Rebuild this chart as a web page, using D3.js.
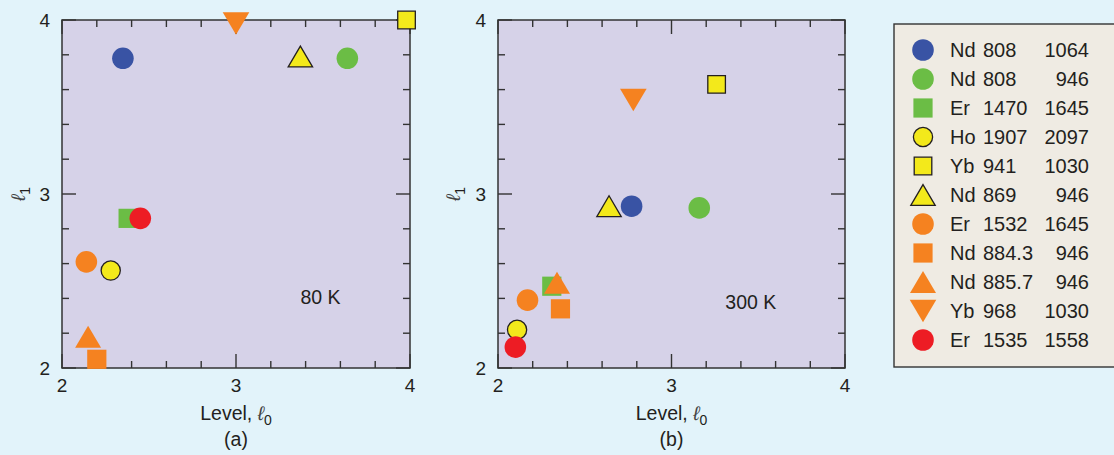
<!DOCTYPE html>
<html>
<head>
<meta charset="utf-8">
<script src="https://cdn.jsdelivr.net/npm/d3@7"></script>
<style>
  body { margin: 0; background: #e2f3fa; }
  svg { display: block; }
  text { font-family: "Liberation Sans", Arial, Helvetica, sans-serif; fill: #231f20; }
</style>
</head>
<body>
<svg id="chart" width="1114" height="455"></svg>
<script>
// Laser transitions: ion, pump wavelength, emission wavelength (nm)
const ions     = ["Nd", "Nd", "Er", "Ho", "Yb", "Nd", "Er", "Nd", "Nd", "Yb", "Er"];
const pumpNm   = ["808", "808", "1470", "1907", "941", "869", "1532", "884.3", "885.7", "968", "1535"];
const emitNm   = ["1064", "946", "1645", "2097", "1030", "946", "1645", "946", "946", "1030", "1558"];
const shapes   = ["circle", "circle", "square", "circle", "square", "triangle", "circle", "square", "triangle", "triangleDown", "circle"];
const colors   = ["#3953a4", "#6bbd45", "#6bbd45", "#f3e91b", "#f3e91b", "#f3e91b", "#f58220", "#f58220", "#f58220", "#f58220", "#ed1c24"];
const outlined = [false, false, false, true, true, true, false, false, false, false, false];

// Level l0 (x) and l1 (y) at 80 K
const l0At80K  = [2.35, 3.64, 2.38, 2.28, 3.98, 3.37, 2.14, 2.20, 2.15, 3.00, 2.45];
const l1At80K  = [3.78, 3.78, 2.86, 2.56, 4.00, 3.79, 2.61, 2.05, 2.18, 3.98, 2.86];
// Level l0 (x) and l1 (y) at 300 K
const l0At300K = [2.77, 3.16, 2.31, 2.11, 3.26, 2.64, 2.17, 2.36, 2.34, 2.78, 2.10];
const l1At300K = [2.93, 2.92, 2.47, 2.22, 3.63, 2.93, 2.39, 2.34, 2.49, 3.54, 2.12];

const axisDomain = [2, 4];
const majorTicks = [2, 3, 4];
const panelLabels = ["(a)", "(b)"];
const tempLabels = ["80 K", "300 K"];

const svg = d3.select("#chart");
const ink = "#231f20";

// Marker path centred on its bounding box
function markerPath(shape, outline) {
  const p = d3.path();
  if (shape === "circle") {
    const r = outline ? 9.6 : 10.8;
    p.arc(0, 0, r, 0, 2 * Math.PI);
  } else if (shape === "square") {
    const h = outline ? 8.8 : 9.6;
    p.rect(-h, -h, 2 * h, 2 * h);
  } else if (shape === "triangle") {
    const w = outline ? 12.2 : 13, hh = outline ? 10.4 : 11;
    p.moveTo(0, -hh); p.lineTo(w, hh); p.lineTo(-w, hh); p.closePath();
  } else if (shape === "triangleDown") {
    const w = 13.3, hh = 11.2;
    p.moveTo(-w, -hh); p.lineTo(w, -hh); p.lineTo(0, hh); p.closePath();
  }
  return p.toString();
}

function drawMarker(g, i, x, y) {
  g.append("path")
    .attr("d", markerPath(shapes[i], outlined[i]))
    .attr("transform", `translate(${x},${y})`)
    .attr("fill", colors[i])
    .attr("stroke", outlined[i] ? ink : "none")
    .attr("stroke-width", outlined[i] ? 1.3 : 0);
}

const panels = [
  { left: 62, right: 410, l0: l0At80K, l1: l1At80K, temp: [3.37, 2.37], yLabelX: 25 },
  { left: 498, right: 845, l0: l0At300K, l1: l1At300K, temp: [3.31, 2.34], yLabelX: 460 }
];
const plotTop = 20, plotBottom = 368;

panels.forEach((pn, k) => {
  const x = d3.scaleLinear().domain(axisDomain).range([pn.left, pn.right]);
  const y = d3.scaleLinear().domain(axisDomain).range([plotBottom, plotTop]);
  const g = svg.append("g");

  g.append("rect")
    .attr("x", pn.left).attr("y", plotTop)
    .attr("width", pn.right - pn.left).attr("height", plotBottom - plotTop)
    .attr("fill", "#d6d2e8");

  const ticks = x.ticks(10);
  const isMajor = v => majorTicks.some(m => Math.abs(m - v) < 1e-9);
  const tickLen = v => isMajor(v) ? 14 : 7;

  const tg = g.append("g").attr("stroke", "#333").attr("stroke-width", 1.4);
  ticks.forEach(v => {
    const L = tickLen(v);
    tg.append("line").attr("x1", x(v)).attr("x2", x(v)).attr("y1", plotBottom).attr("y2", plotBottom - L);
    tg.append("line").attr("x1", x(v)).attr("x2", x(v)).attr("y1", plotTop).attr("y2", plotTop + L);
    tg.append("line").attr("y1", y(v)).attr("y2", y(v)).attr("x1", pn.left).attr("x2", pn.left + L);
    tg.append("line").attr("y1", y(v)).attr("y2", y(v)).attr("x1", pn.right).attr("x2", pn.right - L);
  });

  g.append("rect")
    .attr("x", pn.left).attr("y", plotTop)
    .attr("width", pn.right - pn.left).attr("height", plotBottom - plotTop)
    .attr("fill", "none").attr("stroke", "#333").attr("stroke-width", 1.5);

  // tick labels
  majorTicks.forEach(v => {
    g.append("text").attr("x", x(v)).attr("y", 392)
      .attr("text-anchor", "middle").attr("font-size", 19).text(v);
    g.append("text").attr("x", pn.left - 12).attr("y", y(v) + 6.5)
      .attr("text-anchor", "end").attr("font-size", 19).text(v);
  });

  // axis titles
  const cx = (pn.left + pn.right) / 2;
  const xt = g.append("text").attr("x", cx).attr("y", 420)
    .attr("text-anchor", "middle").attr("font-size", 19.5);
  xt.append("tspan").text("Level, ");
  xt.append("tspan").attr("font-style", "italic").attr("fill", "#444").text("ℓ");
  xt.append("tspan").attr("font-size", 14).attr("dy", 5).text("0");

  g.append("text").attr("x", cx).attr("y", 446)
    .attr("text-anchor", "middle").attr("font-size", 19.5).text(panelLabels[k]);

  const yt = g.append("text")
    .attr("transform", `translate(${pn.yLabelX},194) rotate(-90)`)
    .attr("text-anchor", "middle").attr("font-size", 19.5);
  yt.append("tspan").attr("font-style", "italic").attr("fill", "#444").text("ℓ");
  yt.append("tspan").attr("font-size", 14).attr("dy", 5).text("1");

  g.append("text").attr("x", x(pn.temp[0])).attr("y", y(pn.temp[1]))
    .attr("font-size", 19.5).text(tempLabels[k]);

  // markers, drawn in legend order
  const mg = g.append("g");
  ions.forEach((_, i) => drawMarker(mg, i, x(pn.l0[i]), y(pn.l1[i])));
});

// legend
const lg = svg.append("g");
lg.append("rect").attr("x", 894).attr("y", 24).attr("width", 240).attr("height", 343)
  .attr("fill", "#efebe3").attr("stroke", "#333").attr("stroke-width", 1.4);
ions.forEach((ion, i) => {
  const cy = 50 + i * 29;
  drawMarker(lg, i, 923, cy);
  lg.append("text").attr("x", 950).attr("y", cy + 7).attr("font-size", 20).text(ion);
  lg.append("text").attr("x", 983).attr("y", cy + 7).attr("font-size", 20).text(pumpNm[i]);
  lg.append("text").attr("x", 1089).attr("y", cy + 7).attr("font-size", 20)
    .attr("text-anchor", "end").text(emitNm[i]);
});
</script>
</body>
</html>
